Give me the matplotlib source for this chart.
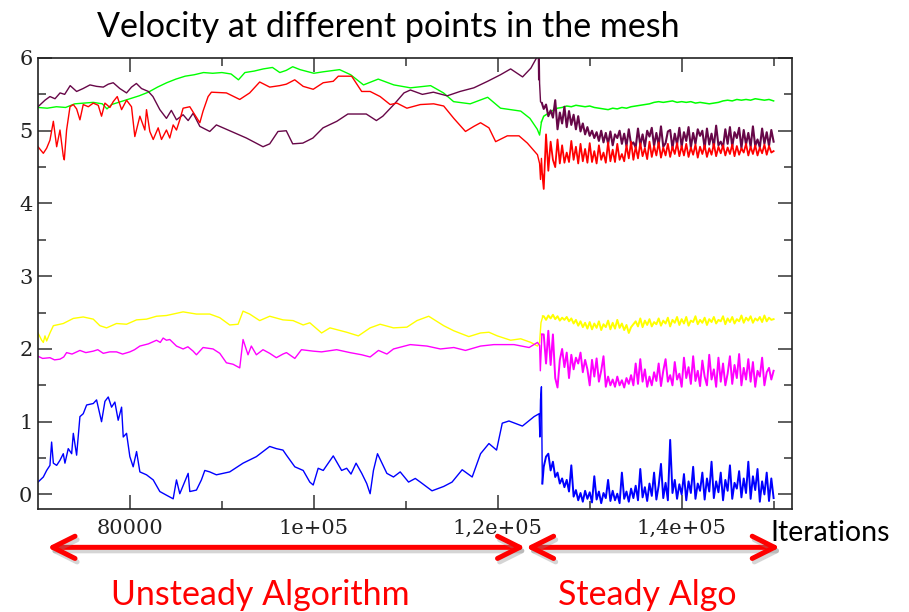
import numpy as np
import matplotlib
matplotlib.use("Agg")
import matplotlib.pyplot as plt
import matplotlib.patheffects as pe

# ---- data ----
# unsteady part: (iteration, value) pairs, steady part: values on a regular grid
green_x = [70000, 71000, 72000, 73000, 74000, 75000, 76000, 77000, 77500, 78000,
           79000, 80000, 81000, 82000, 83000, 84000, 85000, 86000, 87000, 88000,
           89000, 90000, 91000, 91800, 92500, 93500, 94500, 95500, 96300, 97000,
           97700, 98500, 100000, 101000, 102800, 104000, 105400, 107000, 108700, 110500,
           112700, 114100, 115200, 117000, 118900, 120300, 122500, 123500, 124300, 124550,
           124750]
green_y = [5.32, 5.31, 5.33, 5.32, 5.37, 5.38, 5.39, 5.37, 5.30, 5.36,
           5.40, 5.44, 5.48, 5.53, 5.60, 5.66, 5.71, 5.75, 5.77, 5.80,
           5.79, 5.80, 5.78, 5.70, 5.80, 5.82, 5.85, 5.87, 5.80, 5.83,
           5.88, 5.84, 5.79, 5.81, 5.84, 5.77, 5.63, 5.71, 5.63, 5.59,
           5.62, 5.52, 5.40, 5.37, 5.46, 5.31, 5.27, 5.17, 5.02, 4.94,
           5.12]
green_steady = [5.20, 5.24, 5.28, 5.31, 5.32, 5.34, 5.33, 5.35, 5.34, 5.33,
                5.34, 5.32, 5.31, 5.30, 5.29, 5.31, 5.30, 5.32, 5.31, 5.33,
                5.34, 5.35, 5.36, 5.37, 5.39, 5.40, 5.39, 5.40, 5.41, 5.39,
                5.40, 5.39, 5.40, 5.38, 5.39, 5.38, 5.37, 5.38, 5.39, 5.41,
                5.42, 5.41, 5.43, 5.42, 5.43, 5.42, 5.44, 5.43, 5.42, 5.43,
                5.41]

maroon_x = [70000, 70760, 71300, 71850, 72400, 72900, 73500, 74200, 74900, 75650,
            76370, 77100, 77640, 78180, 78900, 79630, 80170, 80700, 81260, 82000,
            82500, 83250, 83970, 84500, 85060, 85780, 86330, 86870, 87600, 88680,
            89400, 90850, 92660, 94470, 95200, 96100, 97000, 97700, 98800, 99900,
            101000, 102500, 103700, 105700, 106800, 107500, 108700, 109800, 110500, 111800,
            113000, 114500, 115900, 117400, 118900, 120300, 121400, 122700, 123600, 124300,
            124400, 124450, 124500, 124550, 124650, 124800]
maroon_y = [5.33, 5.42, 5.47, 5.44, 5.52, 5.50, 5.62, 5.54, 5.58, 5.63,
            5.61, 5.60, 5.64, 5.66, 5.58, 5.52, 5.60, 5.65, 5.58, 5.54,
            5.47, 5.29, 5.17, 5.28, 5.15, 5.22, 5.14, 5.24, 5.06, 4.99,
            5.08, 5.00, 4.90, 4.78, 4.82, 4.99, 5.00, 4.82, 4.83, 4.90,
            5.04, 5.13, 5.23, 5.23, 5.14, 5.20, 5.36, 5.52, 5.56, 5.50,
            5.53, 5.48, 5.54, 5.59, 5.68, 5.77, 5.85, 5.74, 5.86, 6.02,
            6.20, 5.70, 6.10, 5.65, 5.40, 5.38]
maroon_steady = [5.30, 5.36, 5.20, 5.28, 5.18, 5.42, 5.02, 5.25, 5.10, 5.33,
                 5.05, 5.27, 5.08, 5.22, 5.02, 5.20, 4.99, 5.10, 4.95, 5.05,
                 4.93, 5.00, 4.90, 4.98, 4.86, 5.00, 4.84, 4.97, 4.82, 4.99,
                 4.80, 4.95, 4.90, 5.00, 4.82, 4.96, 4.79, 5.02, 4.81, 4.84,
                 4.77, 5.03, 4.80, 4.95, 4.78, 5.00, 4.92, 5.04, 4.79, 4.97,
                 4.80, 5.06, 4.78, 4.83, 4.99, 5.01, 4.76, 4.96, 4.81, 5.04,
                 4.78, 4.98, 4.86, 5.05, 4.77, 4.97, 4.82, 5.02, 4.93, 5.00,
                 4.76, 5.03, 4.81, 4.96, 4.78, 5.07, 4.80, 4.85, 4.77, 5.02,
                 4.82, 5.05, 4.78, 4.98, 4.90, 5.04, 4.76, 5.01, 4.81, 4.97,
                 4.78, 5.06, 4.79, 4.88, 4.77, 5.03, 4.82, 4.98, 4.79, 5.01,
                 4.85]

red_x = [70000, 70580, 70940, 71300, 71670, 72030, 72390, 72750, 72860, 73110,
         73480, 73840, 74200, 74560, 74920, 75470, 76010, 76550, 76910, 77280,
         77820, 78180, 78620, 79090, 79630, 80170, 80530, 81080, 81620, 81800,
         82160, 82530, 83070, 83430, 83970, 84330, 84700, 85060, 85420, 85780,
         86510, 87050, 87600, 87950, 88500, 88860, 90490, 91940, 93020, 94110,
         95200, 96280, 97000, 97920, 98840, 99930, 101020, 102110, 102660, 104110,
         105200, 106120, 107210, 108300, 109030, 110120, 111580, 113030, 114120, 115220,
         116490, 117400, 118130, 119040, 119770, 121040, 122310, 123220, 124320, 124550,
         124650, 124750, 124850]
red_y = [4.78, 4.69, 4.76, 4.87, 5.13, 4.78, 5.01, 4.65, 4.60, 5.01,
         5.33, 5.36, 5.30, 5.15, 5.36, 5.33, 5.38, 5.35, 5.20, 5.38,
         5.32, 5.40, 5.47, 5.29, 5.42, 5.33, 4.92, 5.20, 5.01, 5.29,
         4.99, 4.88, 5.04, 4.88, 5.01, 4.90, 5.08, 5.01, 5.15, 5.31,
         5.33, 5.22, 5.11, 5.27, 5.47, 5.53, 5.52, 5.43, 5.52, 5.67,
         5.60, 5.62, 5.64, 5.70, 5.61, 5.57, 5.66, 5.68, 5.75, 5.75,
         5.54, 5.54, 5.47, 5.36, 5.38, 5.31, 5.36, 5.37, 5.34, 5.17,
         4.99, 5.06, 5.11, 5.04, 4.85, 4.93, 4.93, 4.83, 4.67, 4.55,
         4.33, 4.62, 4.40]
red_steady = [4.20, 4.95, 4.45, 4.85, 4.60, 4.50, 4.88, 4.55, 4.80, 4.56,
              4.70, 4.57, 4.86, 4.60, 4.78, 4.55, 4.82, 4.58, 4.75, 4.56,
              4.83, 4.57, 4.72, 4.55, 4.80, 4.60, 4.70, 4.56, 4.84, 4.58,
              4.74, 4.57, 4.82, 4.60, 4.68, 4.58, 4.80, 4.62, 4.85, 4.60,
              4.78, 4.62, 4.83, 4.65, 4.76, 4.61, 4.85, 4.64, 4.79, 4.66,
              4.84, 4.63, 4.77, 4.66, 4.82, 4.64, 4.78, 4.68, 4.83, 4.65,
              4.79, 4.66, 4.82, 4.64, 4.77, 4.67, 4.81, 4.63, 4.78, 4.68,
              4.80, 4.64, 4.76, 4.67, 4.82, 4.65, 4.78, 4.69, 4.80, 4.66,
              4.77, 4.68, 4.81, 4.65, 4.79, 4.67, 4.76, 4.70, 4.82, 4.66,
              4.78, 4.68, 4.80, 4.66, 4.77, 4.69, 4.81, 4.67, 4.79, 4.70,
              4.72]

yellow_x = [70000, 70400, 70580, 70760, 70940, 71300, 71670, 72750, 73840, 74920,
            76010, 76730, 77460, 78540, 79630, 80720, 81800, 82890, 83970, 85060,
            85780, 87230, 88680, 89770, 90850, 91760, 92300, 93020, 94110, 95200,
            96640, 97740, 98840, 99560, 100840, 101750, 103570, 104840, 106120, 107210,
            108660, 110120, 111210, 112490, 114120, 115220, 116850, 118130, 119040, 119950,
            121400, 122500, 123590, 124320, 124550, 124700, 124900]
yellow_y = [2.22, 2.12, 2.09, 2.18, 2.11, 2.22, 2.32, 2.35, 2.42, 2.44,
            2.41, 2.32, 2.29, 2.35, 2.34, 2.40, 2.41, 2.45, 2.46, 2.49,
            2.51, 2.48, 2.48, 2.43, 2.33, 2.34, 2.52, 2.48, 2.39, 2.45,
            2.40, 2.39, 2.33, 2.36, 2.22, 2.29, 2.23, 2.18, 2.29, 2.34,
            2.29, 2.30, 2.39, 2.45, 2.32, 2.25, 2.17, 2.22, 2.23, 2.18,
            2.12, 2.14, 2.09, 2.04, 2.09, 2.36, 2.45]
yellow_steady = [2.45, 2.40, 2.46, 2.42, 2.47, 2.41, 2.45, 2.39, 2.43, 2.40,
                 2.44, 2.38, 2.42, 2.35, 2.40, 2.32, 2.38, 2.30, 2.36, 2.28,
                 2.37, 2.27, 2.35, 2.29, 2.38, 2.26, 2.34, 2.30, 2.39, 2.27,
                 2.36, 2.28, 2.40, 2.29, 2.35, 2.26, 2.33, 2.22, 2.30, 2.34,
                 2.38, 2.31, 2.42, 2.30, 2.39, 2.33, 2.41, 2.31, 2.37, 2.34,
                 2.42, 2.32, 2.39, 2.35, 2.43, 2.31, 2.40, 2.36, 2.44, 2.33,
                 2.41, 2.35, 2.44, 2.32, 2.39, 2.37, 2.45, 2.34, 2.40, 2.36,
                 2.43, 2.33, 2.41, 2.37, 2.44, 2.35, 2.40, 2.38, 2.45, 2.34,
                 2.42, 2.37, 2.44, 2.35, 2.41, 2.38, 2.46, 2.36, 2.43, 2.39,
                 2.45, 2.36, 2.42, 2.39, 2.44, 2.37, 2.46, 2.38, 2.43, 2.40,
                 2.41]

magenta_x = [70000, 70500, 71300, 71800, 72390, 72800, 73110, 73700, 74560, 75200,
             76010, 76500, 77100, 77800, 78540, 79200, 79990, 80500, 81080, 82000,
             82890, 83300, 83610, 83970, 84330, 85060, 85780, 86300, 86870, 87230,
             87950, 89040, 89770, 90490, 91210, 91940, 92300, 92840, 93200, 93750,
             94470, 95200, 95920, 96640, 97020, 97930, 98650, 99930, 100840, 102480,
             103930, 105210, 106120, 107030, 107940, 108660, 110480, 112300, 113760, 115220,
             116490, 118130, 119580, 121770, 123410, 124320, 124550, 124630, 124800]
magenta_y = [1.90, 1.87, 1.88, 1.85, 1.86, 1.89, 1.95, 1.93, 1.98, 1.95,
             1.97, 1.99, 1.94, 1.96, 1.96, 1.93, 1.96, 1.99, 2.04, 2.07,
             2.12, 2.09, 2.15, 2.12, 2.13, 2.04, 2.00, 2.03, 1.97, 1.92,
             2.02, 2.00, 1.94, 1.81, 1.79, 1.74, 2.13, 1.92, 2.04, 1.92,
             1.99, 1.94, 1.88, 1.93, 1.95, 1.87, 1.99, 1.97, 1.96, 1.99,
             1.95, 1.92, 1.89, 1.98, 1.93, 2.00, 2.06, 2.04, 2.00, 2.02,
             1.98, 2.04, 2.06, 2.06, 2.02, 2.09, 2.05, 1.70, 2.20]
magenta_steady = [2.20, 1.80, 2.25, 1.78, 2.20, 1.60, 1.47, 1.85, 2.00, 1.75,
                  1.95, 1.60, 1.92, 1.72, 1.88, 1.80, 1.95, 1.68, 1.85, 1.72,
                  1.50, 1.85, 1.62, 1.87, 1.55, 1.70, 1.90, 1.48, 1.62, 1.50,
                  1.58, 1.48, 1.62, 1.50, 1.57, 1.47, 1.60, 1.52, 1.64, 1.50,
                  1.80, 1.52, 1.86, 1.55, 1.72, 1.48, 1.62, 1.50, 1.68, 1.56,
                  1.80, 1.49, 1.70, 1.86, 1.55, 1.64, 1.50, 1.82, 1.58, 1.66,
                  1.48, 1.88, 1.60, 1.75, 1.52, 1.90, 1.56, 1.70, 1.49, 1.84,
                  1.62, 1.50, 1.92, 1.58, 1.72, 1.48, 1.88, 1.55, 1.80, 1.50,
                  1.66, 1.90, 1.52, 1.78, 1.60, 1.93, 1.50, 1.74, 1.58, 1.86,
                  1.55, 1.82, 1.48, 1.70, 1.62, 1.88, 1.50, 1.68, 1.74, 1.58,
                  1.70]

blue_x = [70000, 70580, 70940, 71300, 71480, 71670, 72030, 72390, 72750, 72930,
          73290, 73660, 73840, 74200, 74560, 74920, 75290, 76010, 76370, 76910,
          77280, 77640, 78000, 78360, 78720, 79090, 79270, 79630, 79990, 80350,
          80720, 81080, 81800, 82530, 83250, 83970, 84700, 85060, 85420, 86330,
          86510, 87230, 87770, 88140, 88680, 89400, 90850, 92300, 93750, 95200,
          95920, 96640, 97020, 97930, 98840, 99560, 99930, 100470, 101020, 102110,
          103020, 103570, 104040, 104590, 105210, 105750, 106120, 106480, 106920, 107940,
          108660, 109390, 110300, 111030, 111580, 112850, 114120, 115030, 116130, 117220,
          118130, 119040, 119870, 120490, 121220, 122680, 123950, 124500, 124580, 124650,
          124750, 124850]
blue_y = [0.17, 0.24, 0.33, 0.40, 0.72, 0.43, 0.40, 0.47, 0.56, 0.43,
          0.63, 0.56, 0.84, 0.54, 1.07, 1.11, 1.23, 1.25, 1.30, 1.00,
          1.28, 1.34, 1.20, 1.27, 1.02, 1.20, 0.79, 0.84, 0.52, 0.38,
          0.59, 0.31, 0.27, 0.20, 0.04, -0.01, -0.06, 0.20, 0.01, 0.29,
          0.04, 0.06, 0.20, 0.33, 0.31, 0.27, 0.31, 0.43, 0.52, 0.66,
          0.63, 0.61, 0.54, 0.38, 0.33, 0.17, 0.13, 0.36, 0.33, 0.53,
          0.33, 0.36, 0.28, 0.43, 0.29, 0.15, 0.01, 0.33, 0.56, 0.29,
          0.24, 0.31, 0.17, 0.22, 0.17, 0.05, 0.11, 0.17, 0.34, 0.24,
          0.56, 0.70, 0.61, 0.98, 1.01, 0.94, 1.07, 1.11, 0.79, 1.30,
          1.48, 0.15]
blue_steady = [0.38, 0.52, 0.56, 0.33, 0.45, 0.24, 0.30, 0.15, 0.22, 0.10,
               0.20, 0.04, 0.40, -0.03, 0.06, -0.08, 0.02, -0.10, 0.05, -0.06,
               0.03, -0.11, 0.25, -0.07, 0.04, -0.12, 0.02, -0.05, 0.20, -0.09,
               0.05, -0.08, 0.01, -0.12, 0.30, -0.06, 0.04, -0.10, 0.08, -0.05,
               0.12, -0.08, 0.35, -0.04, 0.10, -0.09, 0.15, -0.02, 0.30, -0.07,
               0.12, 0.42, -0.05, 0.16, -0.08, 0.75, 0.02, 0.20, -0.06, 0.14,
               0.00, 0.28, -0.08, 0.18, 0.02, 0.38, -0.06, 0.15, 0.05, 0.30,
               -0.07, 0.22, 0.04, 0.45, -0.05, 0.18, 0.03, 0.30, -0.08, 0.20,
               0.05, 0.40, -0.06, 0.16, 0.08, 0.32, -0.04, 0.22, 0.02, 0.45,
               -0.06, 0.25, 0.06, 0.35, -0.10, 0.18, 0.00, 0.30, -0.09, 0.22,
               -0.05]

steady_start, steady_end = 125000, 150000

x_major = [80000, 100000, 120000, 140000]
x_labels = ["80000", "1e+05", "1,2e+05", "1,4e+05"]
x_minor = [90000, 110000, 130000, 150000]
y_major = [0, 1, 2, 3, 4, 5, 6]
y_minor = [0.5, 1.5, 2.5, 3.5, 4.5, 5.5]

# (x, y, steady values, colour, line width in the steady part)
series = [
    (green_x, green_y, green_steady, "#00ff00", 1.1),
    (maroon_x, maroon_y, maroon_steady, "#670748", 1.5),
    (red_x, red_y, red_steady, "#ff0000", 1.3),
    (yellow_x, yellow_y, yellow_steady, "#ffff00", 1.4),
    (magenta_x, magenta_y, magenta_steady, "#ff00ff", 1.4),
    (blue_x, blue_y, blue_steady, "#0000ff", 1.4),
]

W, H = 909, 612
fig = plt.figure(figsize=(W / 100, H / 100), dpi=100)
ax = fig.add_axes([38 / W, 103 / H, 754 / W, 451 / H])

for xs, ys, steady, color, lw_s in series:
    ax.plot(xs, ys, color=color, lw=1.0)
    sx = np.linspace(steady_start, steady_end, len(steady))
    ax.plot(np.concatenate([xs[-1:], sx]), np.concatenate([ys[-1:], steady]),
            color=color, lw=lw_s)

ax.set_xlim(70000, 152000)
ax.set_ylim(-0.2, 6.0)
ax.set_xticks(x_major)
ax.set_xticklabels(x_labels)
ax.set_xticks(x_minor, minor=True)
ax.set_yticks(y_major)
ax.set_yticks(y_minor, minor=True)
ax.tick_params(which="both", direction="in", top=True, right=True,
               color="#333333", width=1.1)
ax.tick_params(which="major", length=10, labelsize=15, labelcolor="#222222")
ax.tick_params(which="minor", length=6)
ax.tick_params(axis="x", pad=7)
ax.tick_params(axis="y", pad=4)
for lbl in ax.get_xticklabels() + ax.get_yticklabels():
    lbl.set_fontfamily("DejaVu Serif")
for sp in ax.spines.values():
    sp.set_linewidth(1.2)
    sp.set_color("#222222")

# title and annotations
fig.text(388 / W, 1 - 37 / H, "Velocity at different points in the mesh",
         ha="center", va="baseline", fontsize=24.5, family="Lato")
fig.text(770 / W, 1 - 541 / H, "Iterations", ha="left", va="baseline",
         fontsize=20.5, family="Lato")
fig.text(260 / W, 1 - 605 / H, "Unsteady Algorithm", ha="center",
         va="baseline", fontsize=24.5, family="Lato", color="#ff0000")
fig.text(647 / W, 1 - 605 / H, "Steady Algo", ha="center",
         va="baseline", fontsize=24.5, family="Lato", color="#ff0000")

shadow = [pe.SimpleLineShadow(offset=(1.5, -2.5), shadow_color="#888888", alpha=0.35),
          pe.Normal()]
for x0, x1 in [(71000, 123000), (123050, 150700)]:
    ax.annotate("", xy=(x1, -0.085), xytext=(x0, -0.085),
                xycoords=("data", "axes fraction"), textcoords=("data", "axes fraction"),
                arrowprops=dict(arrowstyle="<->,head_length=0.8,head_width=0.4",
                                color="#ff0000", lw=3.6, mutation_scale=20,
                                shrinkA=0, shrinkB=0, path_effects=shadow),
                annotation_clip=False)

fig.savefig("out.png", dpi=100)
